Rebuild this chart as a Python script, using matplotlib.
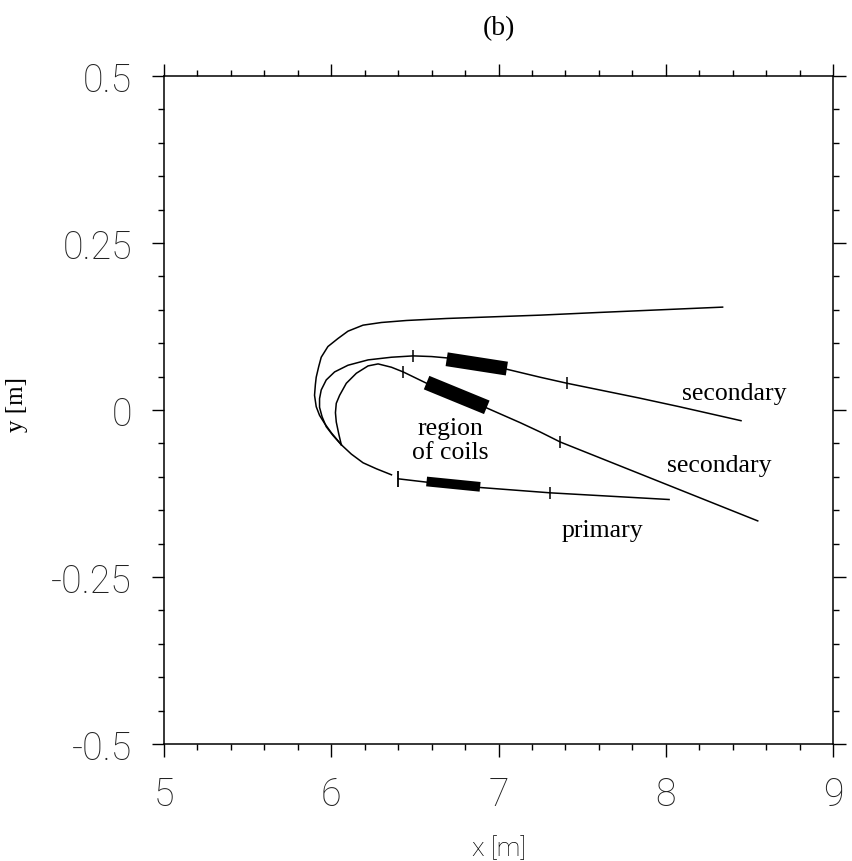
import numpy as np
import matplotlib.pyplot as plt
from matplotlib.ticker import MultipleLocator

# trajectories, x [m] / y [m]
prim_x = [8.02, 7.31, 6.89, 6.57, 6.40]
prim_y = [-0.134, -0.124, -0.116, -0.108, -0.103]

# outer loop -> upper straight track
top_x = [6.36, 6.27, 6.19, 6.12, 6.06, 6.00, 5.96, 5.93, 5.91, 5.90, 5.905, 5.91, 5.925,
         5.94, 5.98, 6.04, 6.10, 6.19, 6.30, 6.45, 6.69, 7.25, 7.60, 8.34]
top_y = [-0.097, -0.088, -0.079, -0.066, -0.052, -0.034, -0.020, -0.008, 0.005, 0.022, 0.038,
         0.049, 0.065, 0.079, 0.095, 0.107, 0.118, 0.127, 0.131, 0.134, 0.137, 0.142, 0.146, 0.154]

# middle loop -> upper secondary
sec1_x = [6.06, 6.01, 5.97, 5.945, 5.93, 5.93, 5.94, 5.97, 6.02, 6.10, 6.22, 6.36, 6.49,
          6.60, 6.69, 7.05, 7.25, 7.41, 7.84, 8.08, 8.45]
sec1_y = [-0.052, -0.038, -0.025, -0.010, 0.004, 0.017, 0.030, 0.045, 0.057, 0.067, 0.075,
          0.079, 0.081, 0.080, 0.078, 0.061, 0.049, 0.040, 0.018, 0.005, -0.016]

# inner loop -> lower secondary
sec2_x = [6.06, 6.045, 6.03, 6.025, 6.03, 6.05, 6.09, 6.15, 6.22, 6.28, 6.36, 6.43, 6.57,
          6.93, 7.13, 7.25, 7.37, 7.64, 8.04, 8.55]
sec2_y = [-0.052, -0.036, -0.018, -0.004, 0.010, 0.022, 0.040, 0.055, 0.066, 0.069, 0.064,
          0.057, 0.040, 0.003, -0.019, -0.033, -0.048, -0.075, -0.115, -0.166]

# coil blocks (start/end along each track) and their drawn thickness
coil_x0 = [6.69, 6.57, 6.57]
coil_y0 = [0.076, 0.041, -0.107]
coil_x1 = [7.05, 6.93, 6.89]
coil_y1 = [0.062, 0.004, -0.115]
coil_w = [10.0, 10.5, 7.0]

# little cross marks on the tracks
mark_x = [6.49, 7.41, 6.43, 7.37, 7.31]
mark_y = [0.081, 0.040, 0.057, -0.048, -0.124]

labels = ['secondary', 'secondary', 'primary', 'region\nof coils']
lab_x = [8.41, 8.32, 7.62, 6.71]
lab_y = [0.025, -0.082, -0.179, -0.045]

xticks = [5, 6, 7, 8, 9]
yticks = [-0.5, -0.25, 0, 0.25, 0.5]
yticklabels = ['-0.5', '-0.25', '0', '0.25', '0.5']

fig = plt.figure(figsize=(8.52, 8.62), dpi=100)
ax = fig.add_axes([0.1925, 0.1357, 0.7852, 0.775])

for xs, ys in [(prim_x, prim_y), (top_x, top_y), (sec1_x, sec1_y), (sec2_x, sec2_y)]:
    ax.plot(xs, ys, color='black', lw=1.1)

for i in range(len(coil_x0)):
    ax.plot([coil_x0[i], coil_x1[i]], [coil_y0[i], coil_y1[i]], color='black',
            lw=coil_w[i], solid_capstyle='butt')

ax.plot(mark_x, mark_y, ls='none', marker='|', ms=9, mew=1.1, color='black')
ax.plot(prim_x[-1], prim_y[-1], ls='none', marker='|', ms=12, mew=1.3, color='black')

for t, x, y in zip(labels, lab_x, lab_y):
    ax.text(x, y, t, ha='center', va='center', fontsize=18.5, family='Liberation Serif',
            linespacing=1.15)

ax.set_xlim(5, 9)
ax.set_ylim(-0.5, 0.5)
ax.set_xticks(xticks)
ax.set_yticks(yticks)
ax.set_yticklabels(yticklabels)
ax.xaxis.set_minor_locator(MultipleLocator(0.2))
ax.yaxis.set_minor_locator(MultipleLocator(0.05))
ax.tick_params(which='both', direction='out', top=True, right=True, width=1.0)
ax.tick_params(which='major', length=9, labelsize=27, pad=14)
ax.tick_params(which='minor', length=4)
for lab in ax.get_xticklabels() + ax.get_yticklabels():
    lab.set_family('Roboto')
    lab.set_fontweight('light')
    lab.set_color('#222222')
for s in ax.spines.values():
    s.set_linewidth(1.1)

ax.set_xlabel('x [m]', fontsize=19, family='Roboto', fontweight='light', labelpad=16)
ax.set_ylabel('y [m]', fontsize=18, family='Liberation Serif')
ax.yaxis.set_label_coords(-0.203, 0.51)
ax.set_title('(b)', fontsize=20, family='Liberation Serif', pad=30)

fig.savefig('out.png', dpi=100)
